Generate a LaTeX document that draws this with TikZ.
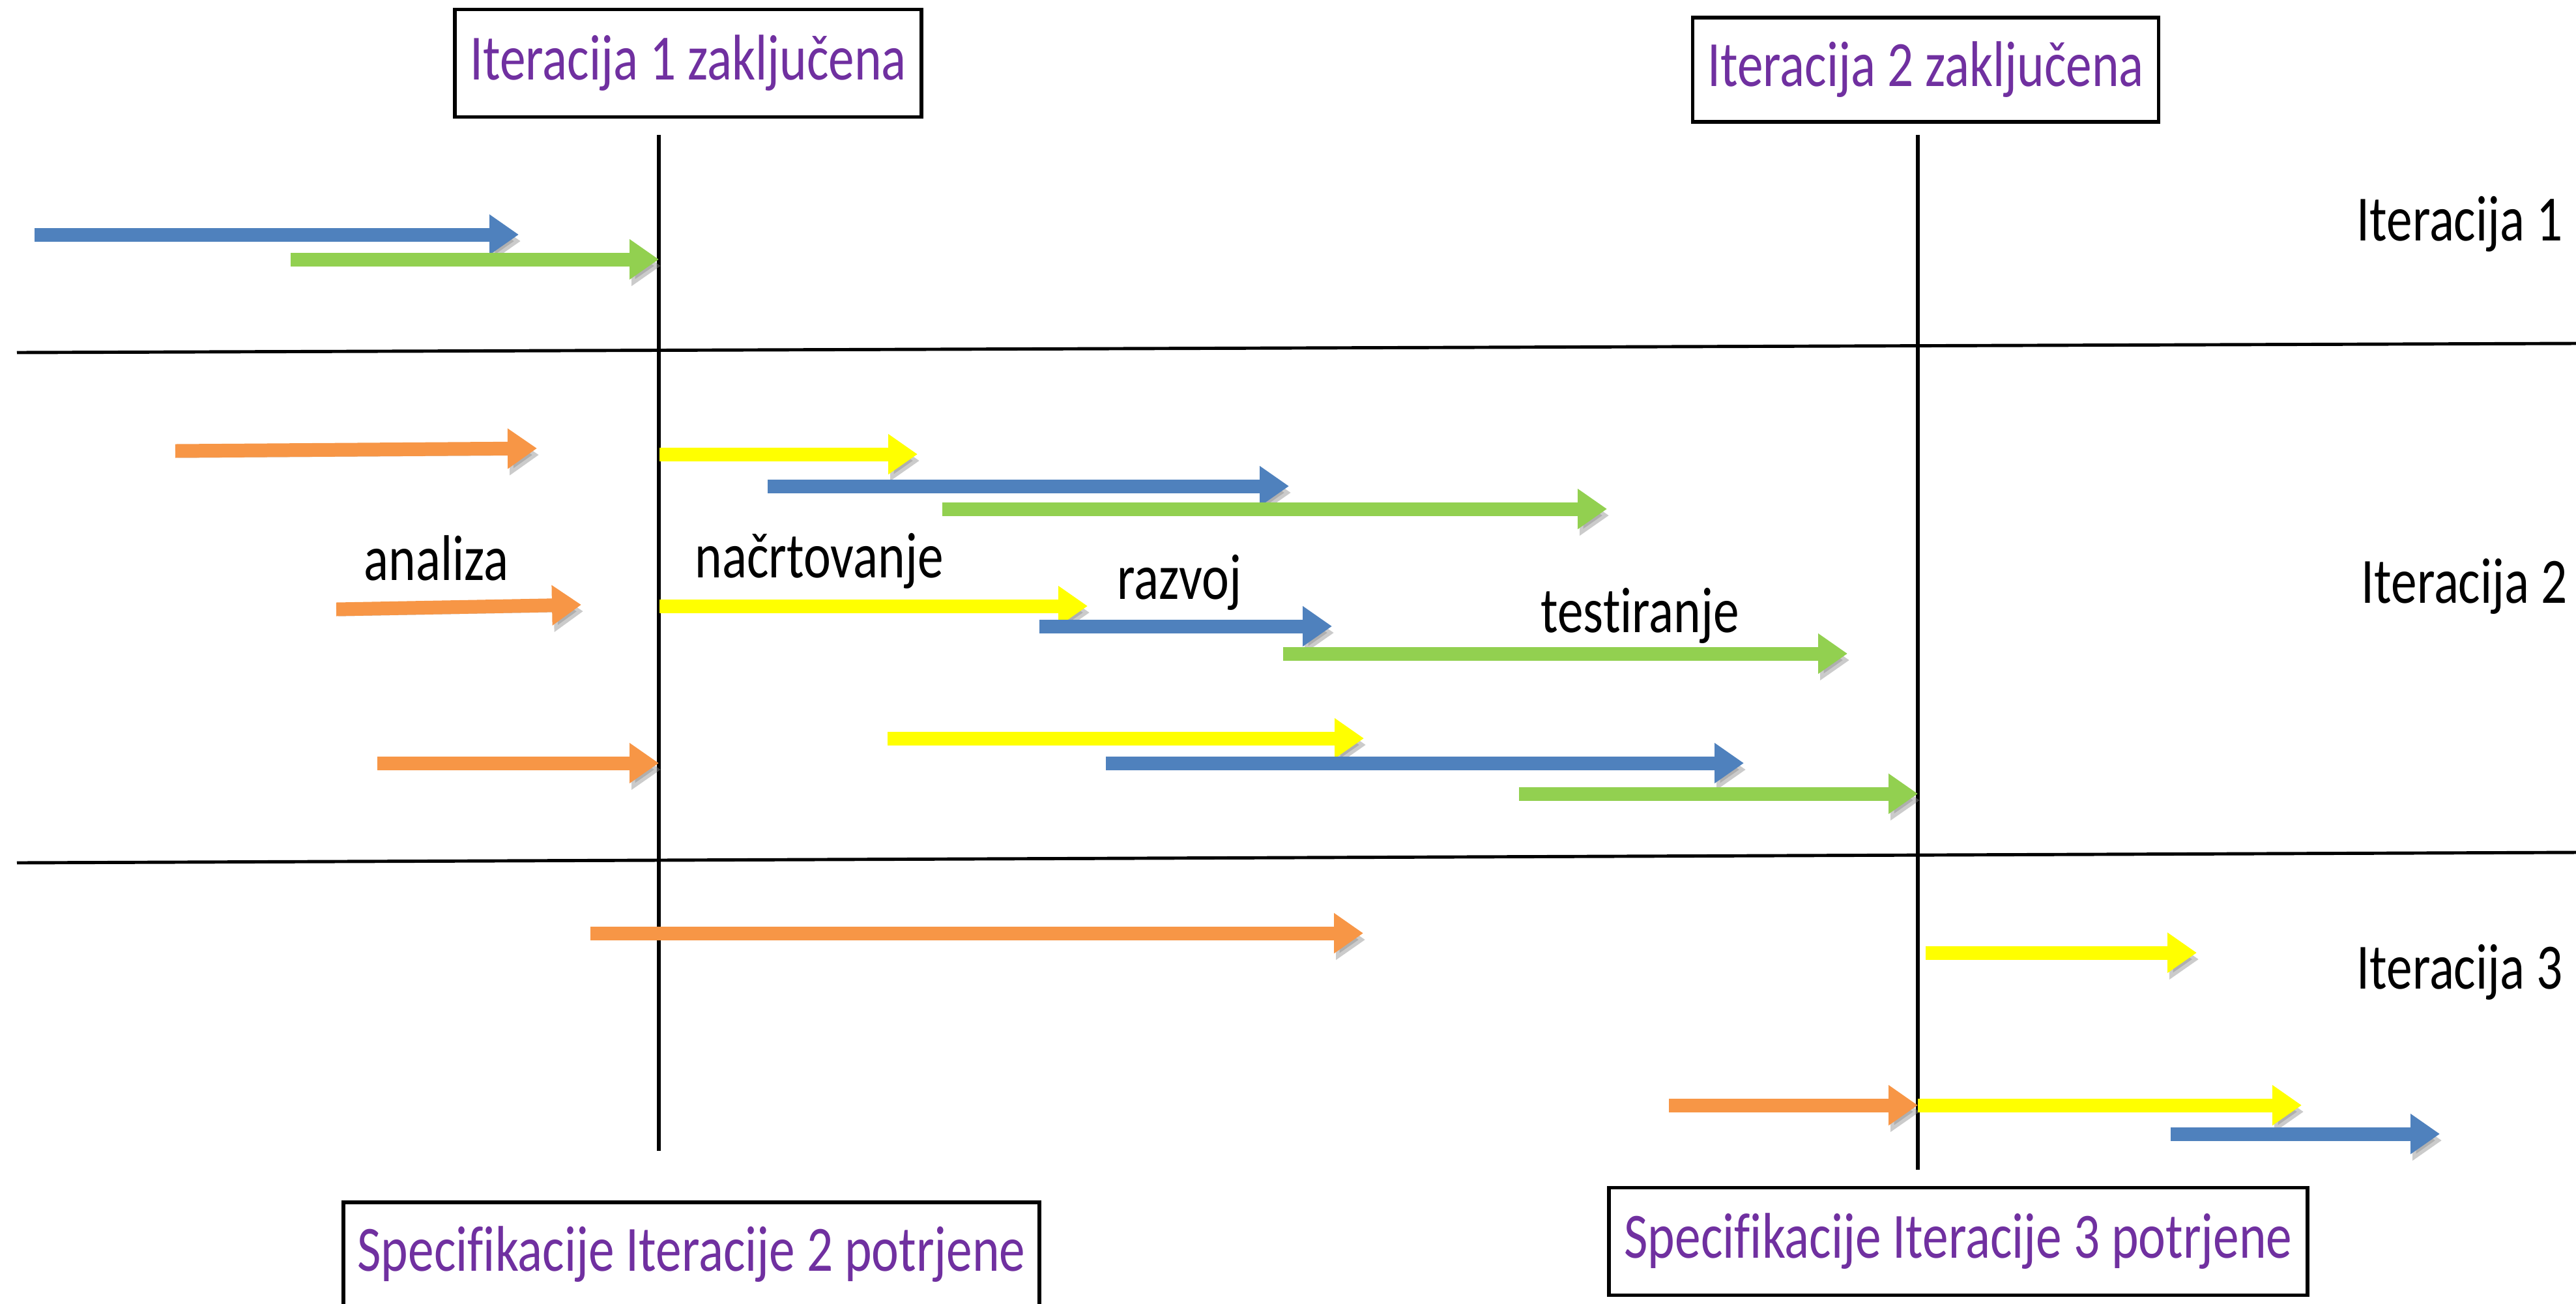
\documentclass[tikz,border=0pt]{standalone}
\usepackage{fontspec}
\setmainfont[FakeStretch=0.80,Ligatures={NoCommon}]{Carlito}
\usetikzlibrary{arrows.meta,positioning}

\definecolor{oranzna}{HTML}{F79646}
\definecolor{modra}{HTML}{4F81BD}
\definecolor{zelena}{HTML}{92D050}
\definecolor{rumena}{HTML}{FFFF00}
\definecolor{vijola}{HTML}{7030A0}

\begin{document}
\begin{tikzpicture}[
  font=\fontsize{28.2pt}{33pt}\selectfont,
  bar/.style={line width=2.1mm,-{Triangle[length=4.5mm,width=5.9mm]},
    preaction={draw=black!45,opacity=.45,transform canvas={shift={(.3mm,-1mm)}}}},
  mejnik/.style={draw,line width=1.6pt,text=vijola,inner sep=0pt},
  oznaka/.style={anchor=base west,inner sep=0pt}]

  \useasboundingbox (0,0) rectangle (39.53,-20);
  \clip (0,0) rectangle (39.53,-20);

  % okvirji z mejniki
  \node[mejnik,minimum width=7.16cm,minimum height=1.65cm] (zak1) at (10.56,-0.97) {Iteracija 1 zaključena};
  \node[mejnik,minimum width=7.15cm,minimum height=1.60cm] (zak2) at (29.55,-1.07) {Iteracija 2 zaključena};
  \node[mejnik,minimum width=10.68cm,minimum height=1.60cm] (spec2) at (10.61,-19.25) {Specifikacije Iteracije 2 potrjene};
  \node[mejnik,minimum width=10.72cm,minimum height=1.65cm] (spec3) at (30.05,-19.05) {Specifikacije Iteracije 3 potrjene};

  % navpicni crti
  \coordinate (m1zg) at (10.11,-2.07);
  \coordinate (m1sp) at (10.11,-17.66);
  \coordinate (m2zg) at (29.43,-2.07);
  \coordinate (m2sp) at (29.43,-17.95);
  \draw[line width=1.8pt] (m1zg) -- (m1sp);
  \draw[line width=1.8pt] (m2zg) -- (m2sp);

  % vodoravni crti med iteracijami
  \draw[line width=1.4pt] (0.26,-5.41) -- (39.53,-5.27);
  \draw[line width=1.4pt] (0.26,-13.24) -- (39.53,-13.08);

  % oznake iteracij
  \node[oznaka] (it1) at (36.16,-3.69) {Iteracija 1};
  \node[oznaka] (it2) at (36.23,-9.25) {Iteracija 2};
  \node[oznaka] (it3) at (36.16,-15.17) {Iteracija 3};

  % oznake faz
  \node[oznaka] (analiza) at (5.58,-8.90) {analiza};
  \node[oznaka] (nacrt) at (10.66,-8.86) {načrtovanje};
  \node[oznaka] (razvoj) at (17.14,-9.19) {razvoj};
  \node[oznaka] (test) at (23.64,-9.70) {testiranje};

  % iteracija 1
  \draw[bar,modra] (0.53,-3.60) -- (7.96,-3.60);
  \draw[bar,zelena] (4.46,-3.98) -- (10.11,-3.98);

  % iteracija 2
  \draw[bar,oranzna] (2.69,-6.92) -- (8.24,-6.88);
  \draw[bar,rumena] (10.12,-6.97) -- (14.08,-6.97);
  \draw[bar,modra] (11.78,-7.46) -- (19.78,-7.46);
  \draw[bar,zelena] (14.46,-7.81) -- (24.66,-7.81);
  \draw[bar,oranzna] (5.16,-9.35) -- (8.92,-9.28);
  \draw[bar,rumena] (10.12,-9.30) -- (16.69,-9.30);
  \draw[bar,modra] (15.95,-9.61) -- (20.44,-9.61);
  \draw[bar,zelena] (19.69,-10.03) -- (28.35,-10.03);
  \draw[bar,oranzna] (5.79,-11.71) -- (10.11,-11.71);
  \draw[bar,rumena] (13.62,-11.33) -- (20.93,-11.33);
  \draw[bar,modra] (16.97,-11.71) -- (26.76,-11.71);
  \draw[bar,zelena] (23.31,-12.18) -- (29.43,-12.18);

  % iteracija 3
  \draw[bar,oranzna] (9.06,-14.32) -- (20.92,-14.32);
  \draw[bar,rumena] (29.55,-14.62) -- (33.71,-14.62);
  \draw[bar,oranzna] (25.61,-16.96) -- (29.43,-16.96);
  \draw[bar,rumena] (29.43,-16.96) -- (35.32,-16.96);
  \draw[bar,modra] (33.31,-17.40) -- (37.44,-17.40);

\end{tikzpicture}
\end{document}
